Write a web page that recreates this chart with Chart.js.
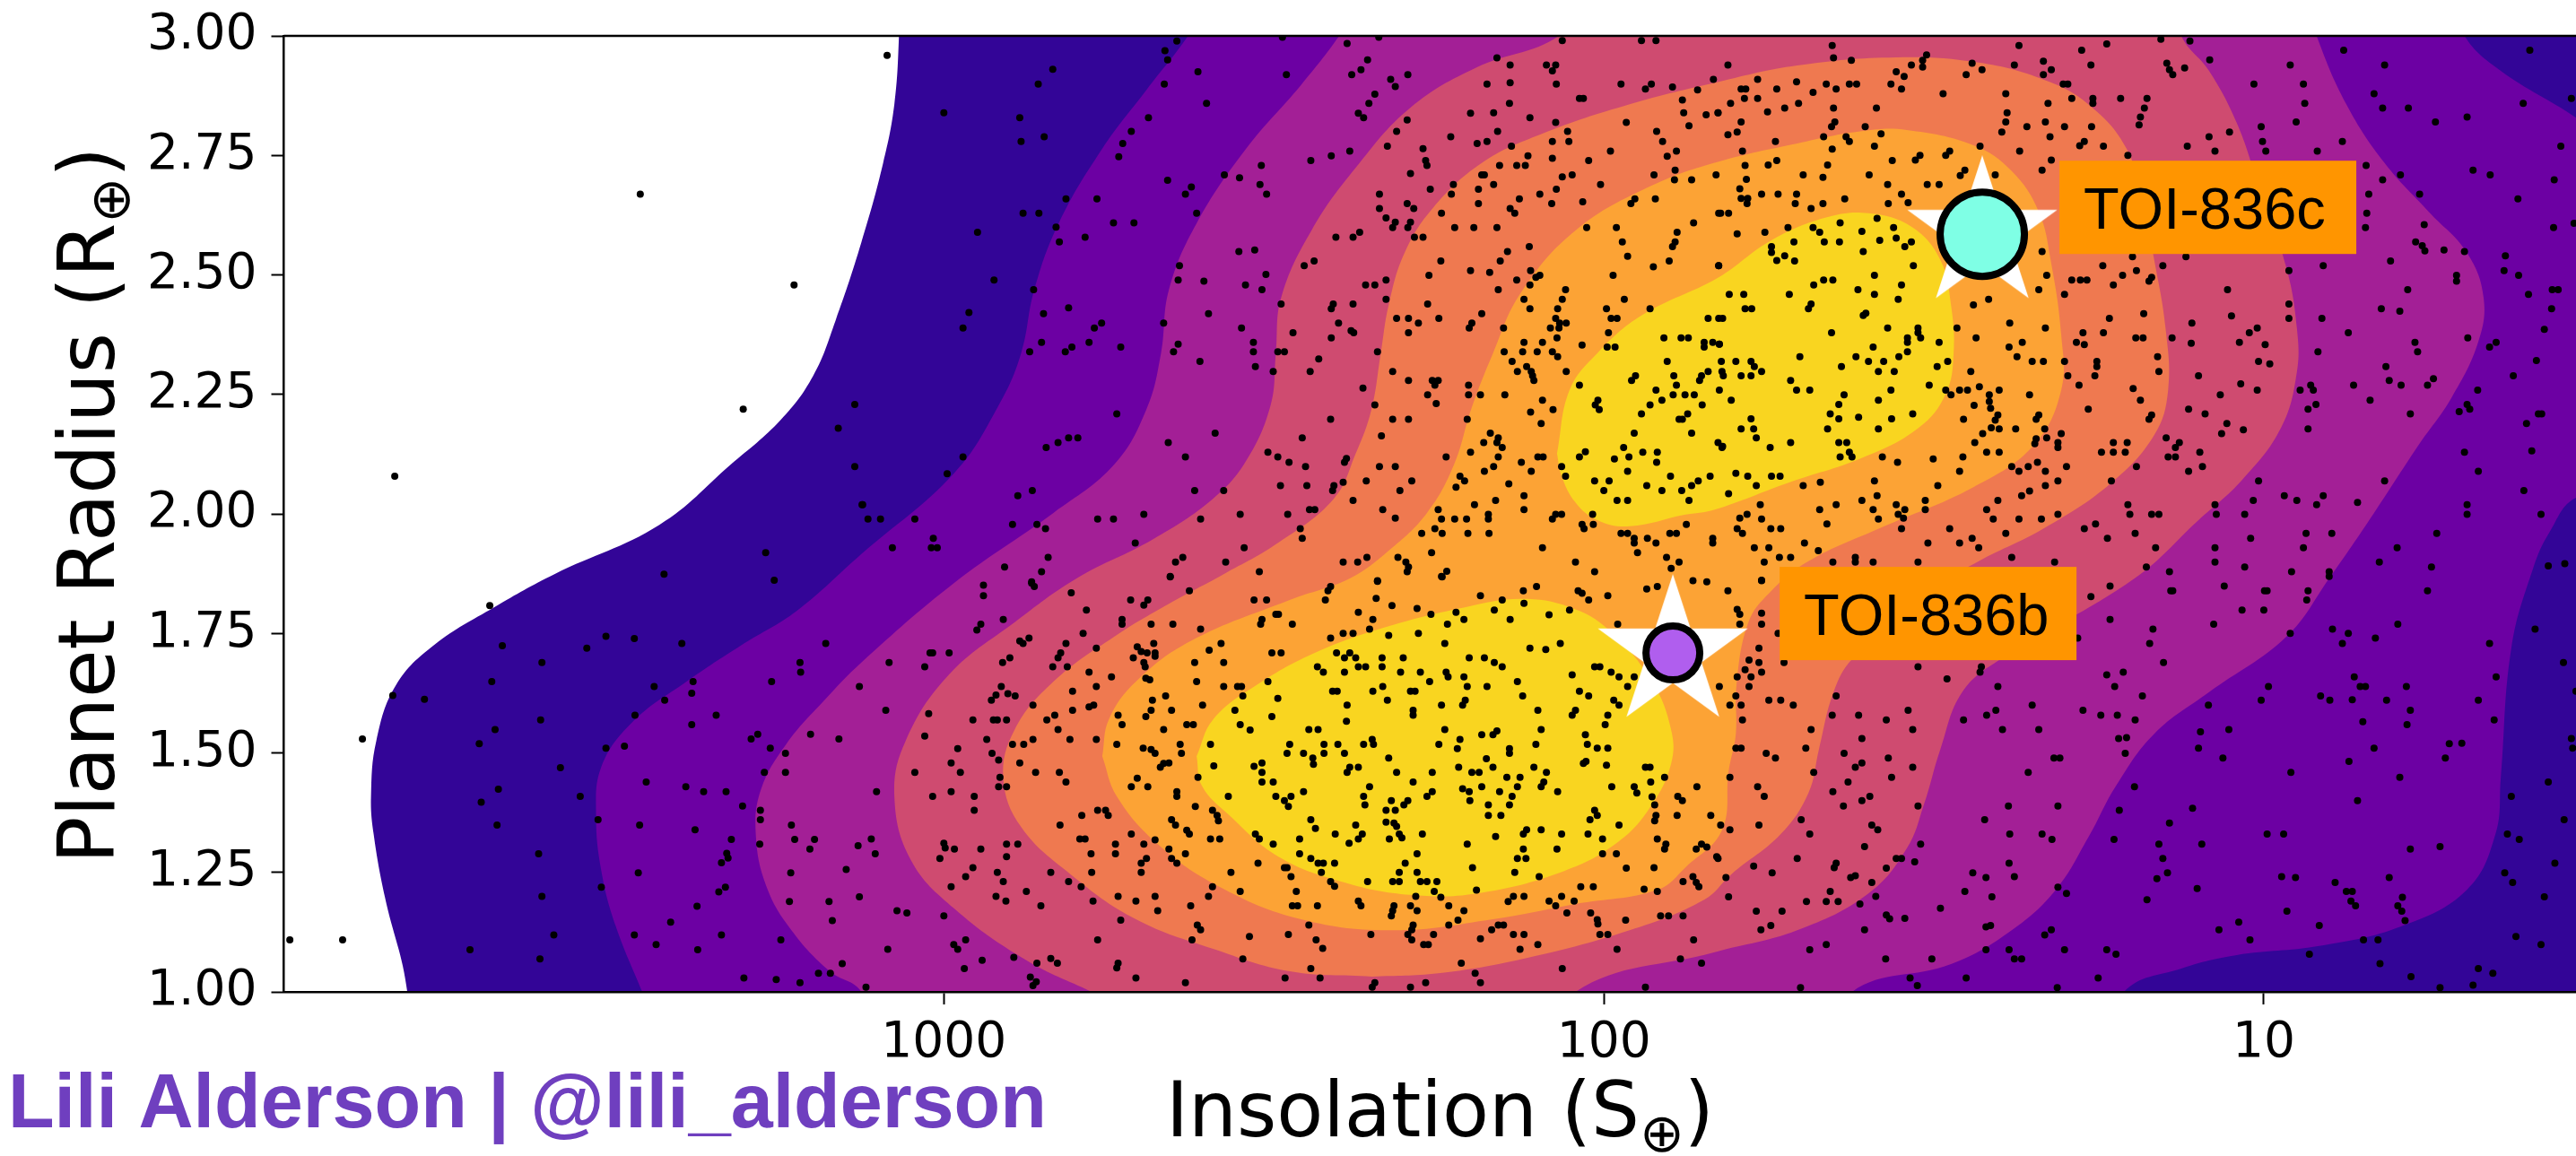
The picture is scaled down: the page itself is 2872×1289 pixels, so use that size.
<!DOCTYPE html>
<html><head><meta charset="utf-8">
<style>html,body{margin:0;padding:0;background:#fff}canvas{display:block}</style>
<script src="https://cdn.jsdelivr.net/npm/chart.js@4/dist/chart.umd.min.js"></script>
</head><body><canvas id="c" width="2872" height="1289"></canvas>
<script>
// All pairs: log10(insolation), planet radius
const yTicks=[1,1.25,1.5,1.75,2,2.25,2.5,2.75,3];
const xTicks=[1000,100,10];
const contourColors=['#330597','#6C00A3','#A31F96','#CF4B70','#EF7950','#FCA335','#F9D520','#F9D520'];
const level1=[3.813,.824,3.813,1,3.847,1.199,3.864,1.33,3.868,1.409,3.86,1.525,3.83,1.642,3.772,1.726,3.681,1.805,3.59,1.874,3.431,1.977,3.323,2.103,3.247,2.197,3.198,2.289,3.164,2.405,3.125,2.568,3.092,2.734,3.075,2.857,3.068,3,3.065,3.188,.353,3.188,.353,.824];
const level2=[3.457,1,3.497,1.137,3.519,1.253,3.527,1.37,3.519,1.471,3.473,1.563,3.39,1.649,3.306,1.726,3.223,1.797,3.125,1.916,2.984,2.086,2.917,2.227,2.883,2.336,2.863,2.469,2.826,2.608,2.76,2.764,2.693,2.887,2.63,3,2.541,3.188,.761,3.188,.696,3,.641,2.927,.527,2.829,.421,2.719,.421,2.062,.527,2.034,.567,1.962,.592,1.886,.625,1.719,.641,1.447,.649,1.33,.692,1.214,.792,1.137,.916,1.096,1.041,1.077,1.125,1.049,1.212,1,1.277,.824,3.478,.824];
const level3=[3.071,.824,3.125,1,3.173,1.043,3.231,1.129,3.269,1.221,3.285,1.33,3.277,1.424,3.239,1.518,3.181,1.61,3.125,1.689,2.984,1.856,2.834,2.002,2.742,2.103,2.693,2.219,2.671,2.336,2.659,2.469,2.617,2.608,2.542,2.764,2.459,2.897,2.401,3,2.31,3.188,.965,3.188,.92,3,.875,2.857,.817,2.734,.75,2.632,.692,2.546,.667,2.452,.675,2.36,.716,2.242,.766,2.143,.833,2.002,.901,1.865,.966,1.743,1.083,1.627,1.166,1.54,1.224,1.431,1.266,1.323,1.315,1.214,1.382,1.129,1.474,1.058,1.624,1,1.712,.824];
const level4=[2.776,1,2.875,1.066,2.984,1.174,3.05,1.276,3.075,1.409,3.058,1.525,2.992,1.664,2.893,1.773,2.799,1.865,2.683,1.947,2.592,2.032,2.542,2.111,2.505,2.227,2.497,2.336,2.489,2.452,2.443,2.593,2.376,2.724,2.293,2.85,2.193,2.934,2.068,3,1.916,3.188,1.168,3.188,1.125,3,1.083,2.927,1.041,2.818,1.008,2.687,.966,2.516,.95,2.39,.95,2.296,.974,2.18,1.033,2.071,1.099,1.987,1.196,1.865,1.399,1.696,1.457,1.627,1.49,1.508,1.515,1.392,1.541,1.3,1.599,1.206,1.707,1.129,1.832,1.083,2.043,1,2.12,.824,2.731,.824];
const level5=[2.351,1.032,2.476,1.043,2.592,1.09,2.709,1.152,2.808,1.246,2.883,1.345,2.91,1.447,2.893,1.548,2.834,1.649,2.742,1.743,2.659,1.812,2.576,1.874,2.493,1.94,2.409,2.032,2.376,2.126,2.352,2.219,2.338,2.336,2.326,2.437,2.302,2.546,2.259,2.64,2.185,2.734,2.094,2.795,1.961,2.857,1.826,2.904,1.707,2.938,1.557,2.955,1.432,2.944,1.333,2.908,1.266,2.857,1.208,2.764,1.182,2.64,1.166,2.531,1.149,2.39,1.145,2.259,1.166,2.165,1.232,2.064,1.333,1.97,1.432,1.901,1.522,1.827,1.624,1.696,1.652,1.627,1.674,1.508,1.69,1.416,1.732,1.33,1.807,1.246,1.848,1.193,1.961,1.129,2.126,1.068,2.251,1.039,2.351,1.032];
const level6=[2.76,1.493,2.738,1.409,2.675,1.308,2.584,1.221,2.459,1.152,2.318,1.129,2.168,1.152,2.043,1.184,1.918,1.214,1.876,1.261,1.821,1.338,1.811,1.461,1.8,1.54,1.799,1.642,1.781,1.773,1.749,1.835,1.69,1.901,1.582,1.97,1.44,2.056,1.349,2.143,1.307,2.259,1.307,2.375,1.323,2.531,1.341,2.632,1.382,2.717,1.44,2.771,1.541,2.803,1.607,2.801,1.707,2.775,1.826,2.737,1.927,2.687,2.043,2.593,2.126,2.462,2.168,2.336,2.201,2.219,2.227,2.103,2.268,2.002,2.326,1.923,2.385,1.865,2.476,1.82,2.626,1.734,2.709,1.649,2.75,1.57,2.76,1.493];
const level7a=[2.617,1.493,2.592,1.57,2.526,1.642,2.435,1.711,2.326,1.765,2.209,1.805,2.126,1.822,2.052,1.805,1.993,1.758,1.927,1.649,1.898,1.548,1.898,1.478,1.927,1.392,1.977,1.315,2.06,1.253,2.193,1.206,2.293,1.203,2.393,1.229,2.493,1.283,2.568,1.37,2.609,1.431,2.617,1.493];
const level7b=[2.071,2.126,2.052,2.259,2.01,2.336,1.943,2.415,1.826,2.495,1.749,2.57,1.666,2.619,1.599,2.629,1.533,2.6,1.49,2.531,1.474,2.437,1.47,2.336,1.482,2.251,1.523,2.18,1.607,2.118,1.723,2.064,1.832,2.009,1.878,1.998,1.961,1.974,2.01,1.987,2.043,2.024,2.064,2.079,2.071,2.126];
const dotsFarLeft=[3.46,2.669,3.227,2.479,3.304,2.219,3.832,2.079,3.135,2.229,3.16,2.179,3.135,2.099,3.124,2.019,3.27,1.919,3.424,1.874,3.257,1.861,3.688,1.808,3.669,1.724,3.512,1.744,3.541,1.719,3.469,1.739,3.397,1.729,3.609,1.689,3.685,1.649,3.835,1.62,3.787,1.612,3.439,1.639,3.38,1.649,3.382,1.625,3.423,1.61,3.468,1.579,3.611,1.569,3.68,1.549,3.881,1.529,3.704,1.519,3.512,1.51,3.484,1.514,3.382,1.559,3.345,1.579,3.581,1.469,3.451,1.439,3.391,1.429,3.364,1.419,3.33,1.419,3.675,1.424,3.701,1.397,3.551,1.409,3.524,1.36,3.677,1.349,3.461,1.349,3.377,1.339,3.322,1.319,3.305,1.389,3.278,1.38,3.278,1.36,3.279,1.309,3.614,1.289,3.329,1.29,3.327,1.28,3.337,1.27,3.463,1.249,3.519,1.219,3.331,1.219,3.341,1.209,3.609,1.2,3.374,1.179,3.414,1.146,3.591,1.119,3.469,1.119,3.337,1.119,3.991,1.109,3.911,1.109,3.436,1.099,3.718,1.088,3.373,1.088,3.612,1.069,3.303,1.029,3.254,1.026,3.218,1.019,3.247,1.109,3.19,1.039,3.172,1.039,3.154,1.059,3.234,1.189,3.232,1.249,3.174,1.189,3.169,1.149,3.128,1.199,3.148,1.256,3.13,1.306,3.203,1.299,3.196,1.319,3.226,1.319,3.231,1.349,3.24,1.459,3.272,1.459,3.24,1.499,3.263,1.51,3.292,1.529,3.282,1.539,3.202,1.539,3.159,1.529,3.128,1.639,3.261,1.649,3.218,1.689,3.217,1.669,3.179,1.729];
const dotsUpperMid=[3.086,2.959,2.647,2.989,2.665,2.969,2.661,2.95,2.487,2.997,2.341,2.997,2.389,2.984,2.835,2.93,2.857,2.899,2.615,2.925,2.481,2.919,2.666,2.899,2.602,2.859,3,2.839,2.885,2.829,2.69,2.829,2.716,2.8,2.848,2.789,2.883,2.779,2.729,2.775,2.735,2.747,2.063,2.99,1.943,2.99,1.921,2.99,2.162,2.954,2.358,2.95,2.142,2.939,2.087,2.939,2.073,2.939,2.078,2.927,2.368,2.929,2.382,2.919,2.297,2.919,2.323,2.909,2.316,2.894,2.177,2.899,2.142,2.902,2.072,2.899,1.974,2.899,1.937,2.889,1.928,2.899,1.896,2.893,1.834,2.909,1.858,2.887,2.347,2.878,2.356,2.859,2.143,2.859,2.037,2.869,2.031,2.869,1.881,2.866,2.372,2.838,2.364,2.829,2.202,2.838,2.167,2.839,2.112,2.829,1.879,2.839,1.845,2.835,1.827,2.839,2.298,2.824,2.073,2.819,1.966,2.819,1.871,2.812,2.314,2.8,2.161,2.8,2.055,2.8,1.92,2.8,2.232,2.789,2.078,2.779,2.053,2.779,2.192,2.775,2.177,2.779,1.911,2.779,2.328,2.769,2.14,2.769,2.274,2.764,2.385,2.759,1.99,2.759,1.89,2.759,1.904,2.748,2.413,2.749,2.444,2.739,2.519,2.729,2.27,2.739,2.268,2.729,2.115,2.749,2.078,2.744,2.023,2.739,2.158,2.729,2.132,2.729,2.119,2.729,2.575,2.709,2.552,2.703,2.293,2.712,2.185,2.709,2.181,2.709,2.063,2.705,2.048,2.709,1.924,2.709,1.892,2.719,1.893,2.699,1.867,2.699,1.83,2.709,2.661,2.698,2.521,2.689,2.625,2.684,2.634,2.669,2.511,2.669,2.228,2.689,2.167,2.689,2.005,2.689,2.263,2.679,2.19,2.679,2.072,2.679,2.34,2.669,2.231,2.669,2.097,2.669,2.815,2.659,2.768,2.659,2.128,2.659,1.953,2.659,1.922,2.659,2.032,2.653,2.19,2.649,2.079,2.649,1.959,2.649,2.298,2.649,2.34,2.639,2.288,2.639,2.142,2.639,2.135,2.629,2.88,2.629,2.856,2.629,2.617,2.629,2.246,2.629,1.826,2.629,2.33,2.619,2.316,2.61,2.293,2.61,2.743,2.609,2.712,2.609,1.864,2.609,2.83,2.6,2.32,2.599,2.297,2.599,2.226,2.599,2.197,2.599,2.162,2.599,2.026,2.599,1.981,2.599,2.949,2.589,2.37,2.589,1.889,2.589,2.786,2.579,2.406,2.579,2.38,2.579,2.287,2.579,2.274,2.579,2.825,2.569,1.972,2.569,1.892,2.569,1.896,2.559,2.113,2.559,2.553,2.549,2.529,2.552,2.146,2.549,1.964,2.539,2.439,2.529,2.247,2.529,2.157,2.529,1.901,2.529,2.454,2.519,2.643,2.519,1.925,2.517,1.826,2.519,2.202,2.509,2.173,2.505,2.111,2.509,2.512,2.501,2.265,2.499,2.097,2.499,1.986,2.499,2.924,2.489,2.645,2.489,2.606,2.487,2.33,2.489,2.132,2.489,2.103,2.495,2.361,2.479,2.347,2.479,2.543,2.479,2.112,2.479,2.864,2.469,2.518,2.469,2.16,2.469,2.058,2.469,2.33,2.449,2.121,2.449,2.063,2.449,1.969,2.449,2.489,2.439,2.38,2.439,2.41,2.439,2.413,2.429,2.267,2.439,2.112,2.429,2.07,2.429,1.996,2.429,1.93,2.429,2.811,2.431,2.962,2.421,2.849,2.419,2.599,2.419,2.185,2.419,2.667,2.399,2.761,2.399,2.314,2.409,2.296,2.409,2.25,2.409,2.073,2.409,1.989,2.409,1.98,2.409,1.842,2.409,1.826,2.409,2.402,2.399,2.281,2.399,2.2,2.399,2.057,2.399,2.067,2.399,2.971,2.389,2.772,2.389,2.549,2.389,2.204,2.389,2.152,2.389,2.081,2.389,2.068,2.389,2.471,2.379,2.383,2.383,2.379,2.379,2.296,2.379,1.993,2.379,2.413,2.368,2.071,2.368,1.909,2.368,1.883,2.368,1.872,2.368,2.852,2.359,2.78,2.359,2.531,2.359,2.121,2.359,2.093,2.359,1.848,2.359,1.835,2.359,1.825,2.355,2.732,2.349,2.806,2.349,2.645,2.355,2.033,2.353,1.995,2.349,1.983,2.349,1.848,2.349,2.87,2.339,2.816,2.339,2.652,2.339,2.531,2.339,2.494,2.339,2.484,2.339,2.343,2.339,2.151,2.339,2.123,2.339,2.101,2.339,2.078,2.339,2.07,2.329,2.432,2.324,2.612,2.319,2.139,2.319,1.904,2.319,2.528,2.308,2.117,2.308,2.501,2.298,2.445,2.298,2.32,2.298,2.131,2.298,2.11,2.298,2.057,2.298,1.842,2.298,1.821,2.298,2.108,2.289,1.952,2.289,1.894,2.289,1.852,2.289,2.296,2.279,2.26,2.279,2.251,2.279,2.106,2.279,1.958,2.279,1.855,2.279,2.256,2.269,2.205,2.269,2.037,2.269,1.89,2.269,2.365,2.263,1.921,2.259,1.825,2.259,2.267,2.249,2.205,2.249,2.187,2.249,2.15,2.249,1.895,2.249,1.877,2.249,1.863,2.249,2.009,2.238,1.912,2.238,2.093,2.238,2.254,2.231,2.347,2.228,2.013,2.228,1.93,2.228,1.851,2.228,2.077,2.218,2.007,2.218,2.738,2.209,2.111,2.213,1.943,2.209,1.873,2.209,2.414,2.198,2.32,2.198,2.296,2.198,2.207,2.198,1.886,2.198,1.881,2.198,2.095,2.189,2.589,2.169,2.172,2.169,1.954,2.169,1.867,2.169,2.797,2.159,2.811,2.159,2.457,2.159,2.337,2.163,2.16,2.159,2.827,2.149,2.66,2.149,2.182,2.149,2.162,2.149,1.827,2.149,2.845,2.139,2.154,2.139,1.97,2.139,1.82,2.141,2.971,2.119,2.634,2.119,2.509,2.129,2.494,2.119,2.202,2.129,2.028,2.13,1.941,2.129,1.919,2.129,2.39,2.116,2.239,2.119,2.16,2.119,2.1,2.119,2.092,2.119,2.037,2.119,1.984,2.115,1.962,2.119,2.477,2.108,2.393,2.108,2.125,2.108,1.92,2.108,2.452,2.099,2.34,2.099,2.316,2.099,2.167,2.099,2.064,2.099,2.181,2.089,2.11,2.089,1.964,2.089,2.995,2.084,2.218,2.079,2.058,2.079,1.899,2.079,1.839,2.079,2.211,2.069,2.395,2.066,2.36,2.069,2.291,2.069,2.144,2.063,2.014,2.069,1.992,2.069,1.857,2.069,2.49,2.059,2.45,2.059,2.409,2.059,2.224,2.056,1.935,2.059,1.867,2.059,2.866,2.049,2.62,2.049,2.576,2.049,2.411,2.049,2.309,2.049,2,2.049,1.912,2.049,1.882,2.049,2.888,2.038,2.121,2.038,2.38,2.028,2.164,2.028,1.98,2.028,1.964,2.028,1.871,2.028,3.123,2.019,2.196,2.019,2.446,2.009,2.438,2.009,2.335,2.009,2.251,2.009,2.121,2.009,3.115,1.989,3.096,1.989,3.044,1.989,2.767,1.989,2.743,1.989,2.611,1.989,2.316,1.991,2.246,1.989,2.226,1.989,2.208,1.989,2.175,1.989,2.078,1.989,2.697,1.999,2.551,1.999,2.479,1.999,2.175,1.999,2.073,1.999,2.064,1.999,2.017,1.999,2.896,1.978,2.859,1.978,2.846,1.969,2.256,1.969,2.46,1.969,1.875,1.978,2.033,1.978,2.016,1.978,2.03,1.969,3.016,1.949,2.457,1.949,2.276,1.959,2.245,1.959,2.206,1.959,2.174,1.959,1.974,1.959,1.964,1.959,1.9,1.959,1.89,1.959,1.835,1.949,1.954,1.949,1.934,1.949,2.71,1.939,1.954,1.939,1.921,1.939,1.835,1.939,3.078,1.929,3.019,1.929,3.01,1.929,2.545,1.929,2.093,1.929,2.261,1.919,1.949,1.919,2.842,1.909,2.638,1.909,2.359,1.909,2.312,1.909,1.905,1.909,2.649,1.899,2.573,1.899,2.395,1.899,2.373,1.899,2.3,1.899,2.043,1.899,1.886,1.899,2.908,1.889,2.296,1.889,1.898,1.886,2.238,1.88,2.852,1.879,2.522,1.879,2.298,1.879,2.014,1.879,2.657,1.869,2.246,1.869,2.867,1.858,2.343,1.859];
const dotsLowerMid=[2.94,1.851,2.94,1.829,2.867,1.855,2.863,1.848,2.807,1.835,2.657,1.868,2.628,1.839,2.414,1.848,2.418,1.839,2.343,1.86,2.245,1.868,2.102,1.848,2.122,1.839,2.039,1.839,2.033,1.834,1.994,1.829,1.935,1.843,1.919,1.848,1.865,1.86,1.844,1.858,2.187,1.829,2.154,1.82,2.121,1.813,2.345,1.823,2.422,1.82,2.53,1.82,2.511,1.82,2.717,1.82,2.691,1.82,2.697,1.809,2.023,1.82,2.283,1.802,2.321,1.808,2.166,1.799,2.052,1.799,2.083,1.789,2.784,1.799,2.497,1.79,2.493,1.79,2.372,1.794,2.262,1.79,2.224,1.794,2.212,1.779,2.142,1.779,2.73,1.779,2.73,1.769,2.91,1.779,2.518,1.779,2.52,1.769,2.35,1.779,2.237,1.769,2.686,1.769,2.653,1.769,2.472,1.769,2.944,1.769,2.95,1.757,2.611,1.759,2.355,1.759,1.979,1.769,2.789,1.75,2.395,1.75,2.38,1.75,2.326,1.746,2.281,1.75,2.414,1.74,2.871,1.74,2.885,1.734,2.88,1.729,2.815,1.729,2.682,1.729,2.58,1.729,2.241,1.729,2.066,1.729,2.769,1.719,2.707,1.722,2.598,1.715,2.112,1.719,2.088,1.716,3.021,1.709,3.017,1.709,2.992,1.709,2.503,1.709,2.489,1.709,2.405,1.709,2.385,1.709,2.823,1.709,2.827,1.699,2.701,1.712,2.692,1.709,2.68,1.709,2.713,1.699,2.68,1.702,2.393,1.699,2.376,1.699,2.336,1.699,2.304,1.699,2.204,1.699,2.181,1.699,2.9,1.699,2.911,1.689,3.083,1.689,2.62,1.689,2.576,1.689,2.697,1.689,2.695,1.68,2.166,1.689,3.029,1.68,2.835,1.68,2.813,1.68,2.434,1.68,2.425,1.669,2.372,1.68,2.361,1.68,2.336,1.68,2.154,1.68,2.014,1.68,2.006,1.68,1.989,1.669,2.393,1.669,2.308,1.669,2.278,1.669,2.239,1.669,2.236,1.659,2.78,1.669,2.694,1.656,2.688,1.653,2.746,1.659,2.048,1.663,2.212,1.659,1.977,1.659,1.954,1.659,2.131,1.649,2.264,1.649,2.617,1.649,2.509,1.649,2.913,1.639,2.769,1.639,2.805,1.629,2.576,1.639,2.555,1.639,2.549,1.639,2.335,1.639,2.207,1.639,2.177,1.639,1.964,1.639,2.921,1.621,2.928,1.61,2.903,1.624,2.892,1.619,2.411,1.629,2.404,1.629,2.35,1.629,2.293,1.629,2.286,1.629,2.037,1.629,2.023,1.619,2.123,1.619,2.664,1.619,2.547,1.619,2.494,1.614,2.684,1.61,2.328,1.61,2.21,1.61,2.865,1.6,2.773,1.6,2.78,1.596,2.608,1.6,2.389,1.6,2.246,1.6,2.214,1.6,1.985,1.61,1.977,1.6,3.088,1.589,2.805,1.589,2.686,1.589,2.655,1.589,2.559,1.589,2.289,1.589,2.289,1.579,2.1,1.589,2.043,1.589,2.048,1.579,3.023,1.582,2.832,1.579,2.736,1.579,2.694,1.576,2.503,1.576,1.994,1.579,2.956,1.569,2.925,1.569,2.919,1.569,2.905,1.569,2.844,1.569,2.39,1.566,2.73,1.559,2.632,1.559,2.622,1.559,2.551,1.559,2.536,1.548,1.998,1.559,2.827,1.549,2.667,1.549,2.447,1.549,2.433,1.549,2.241,1.549,2.095,1.549,2.185,1.538,2.168,1.538,2.162,1.546,2.028,1.538,3.029,1.535,2.935,1.528,2.865,1.528,2.809,1.528,2.769,1.528,2.351,1.528,2.349,1.518,2.218,1.528,2.896,1.518,2.879,1.518,2.738,1.518,2.642,1.518,2.596,1.518,2.476,1.518,2.424,1.518,2.403,1.518,2.364,1.518,2.25,1.518,2.103,1.518,2.025,1.518,2.01,1.51,1.994,1.51,2.979,1.509,2.698,1.51,2.686,1.507,2.68,1.499,2.222,1.509,2.143,1.509,2.143,1.499,2.48,1.499,2.455,1.499,2.424,1.499,2.393,1.499,2.927,1.499,2.64,1.499,2.326,1.489,2.441,1.489,2.917,1.485,2.178,1.488,2.989,1.479,2.885,1.479,2.659,1.479,2.667,1.478,2.518,1.479,2.44,1.476,2.031,1.478,2.027,1.482,1.996,1.474,2.591,1.473,2.53,1.472,2.385,1.47,2.372,1.47,2.22,1.47,2.168,1.47,2.106,1.47,1.937,1.47,1.93,1.47,2.672,1.47,3.044,1.459,2.975,1.459,2.861,1.459,2.825,1.459,2.518,1.459,2.389,1.459,2.314,1.459,2.26,1.459,2.2,1.459,2.189,1.459,2.087,1.459,2.915,1.449,2.707,1.447,2.615,1.449,2.518,1.439,2.501,1.439,2.815,1.439,2.289,1.439,2.147,1.449,2.127,1.449,2.091,1.439,1.908,1.449,1.929,1.439,2.917,1.429,2.905,1.429,2.716,1.429,2.691,1.429,2.355,1.429,2.185,1.429,2.131,1.429,2.095,1.429,1.988,1.429,1.954,1.429,1.859,1.429,3.102,1.419,2.989,1.419,2.647,1.419,2.647,1.409,2.455,1.419,2.26,1.419,2.214,1.425,2.204,1.419,2.158,1.419,2.07,1.419,1.95,1.416,2.364,1.409,2.362,1.391,2.497,1.409,2.474,1.409,2.268,1.409,2.139,1.409,3.017,1.409,2.954,1.409,2.569,1.409,1.927,1.408,1.888,1.409,2.484,1.4,2.478,1.388,2.322,1.4,2.297,1.4,2.303,1.391,2.203,1.4,1.881,1.4,2.619,1.388,2.175,1.391,2.143,1.391,1.923,1.391,2.767,1.38,2.755,1.38,2.954,1.38,2.593,1.38,2.33,1.38,2.316,1.38,2.014,1.38,2.791,1.369,2.751,1.369,2.586,1.369,2.584,1.358,2.175,1.369,2.156,1.369,2.01,1.369,1.921,1.369,1.889,1.369,1.838,1.369,2.655,1.36,2.444,1.36,2.33,1.355,2.318,1.353,2.021,1.36,1.923,1.358,2.824,1.349,2.649,1.349,2.376,1.349,2.314,1.346,1.977,1.349,2.437,1.342,2.632,1.338,2.117,1.339,2.122,1.33,2.095,1.339,2.024,1.33,2.366,1.33,2.716,1.33,2.628,1.33,2.528,1.33,2.31,1.33,2.306,1.322,2.275,1.33,2.164,1.325,2.064,1.33,2.407,1.33,2.794,1.32,2.786,1.32,2.68,1.318,2.596,1.32,2.582,1.32,2.522,1.32,2.461,1.32,2.372,1.32,2.386,1.311,2.325,1.32,2.002,1.32,1.919,1.32,3.11,1.32,2.501,1.309,3,1.311,2.998,1.301,2.905,1.309,2.888,1.309,2.74,1.309,2.697,1.309,2.207,1.309,1.906,1.309,1.908,1.299,1.852,1.309,2.984,1.299,2.944,1.299,2.659,1.299,2.122,1.299,2.071,1.299,1.86,1.299,1.844,1.303,3.104,1.289,2.905,1.283,2.777,1.289,2.74,1.289,2.634,1.289,2.461,1.289,2.283,1.289,2.002,1.289,1.981,1.289,3.006,1.279,2.693,1.279,2.655,1.279,2.444,1.279,2.131,1.279,2.118,1.279,1.829,1.283,2.701,1.269,2.647,1.269,2.524,1.269,2.433,1.269,2.425,1.269,2.408,1.269,2.301,1.269,2.484,1.26,2.48,1.26,2.956,1.26,2.199,1.26,1.966,1.259,1.924,1.26,2.428,1.25,2.31,1.25,2.283,1.25,2.919,1.25,2.838,1.25,2.776,1.25,2.701,1.25,2.565,1.25,2.135,1.25,2.098,1.241,2.967,1.241,2.474,1.241,1.865,1.241,2.811,1.231,2.91,1.231,2.358,1.231,2.32,1.231,2.31,1.231,2.278,1.231,2.268,1.231,2.253,1.231,2.414,1.231,2.408,1.221,1.88,1.231,1.86,1.229,2.989,1.22,2.792,1.22,2.593,1.22,2.035,1.22,2.016,1.22,1.856,1.22,2.193,1.213,1.939,1.215,1.919,1.21,2.875,1.21,2.551,1.21,2.466,1.21,2.257,1.21,2.599,1.2,2.736,1.2,2.68,1.2,2.921,1.2,2.285,1.2,2.247,1.198,2.137,1.2,2.121,1.2,2.064,1.2,2.906,1.19,2.774,1.19,2.709,1.19,2.372,1.19,2.083,1.19,2.045,1.19,2.145,1.189,2.853,1.18,2.626,1.18,2.472,1.18,2.464,1.18,2.434,1.18,2.318,1.18,2.293,1.18,2.235,1.18,2.368,1.18,2.073,1.18,3.071,1.17,3.056,1.165,2.676,1.17,2.32,1.17,2.283,1.17,2.212,1.17,2.056,1.165,2.02,1.165,3,1.159,2.322,1.159,1.902,1.159,1.914,1.159,1.88,1.159,2.01,1.151,2.009,1.142,2.732,1.15,1.967,1.15,2.221,1.15,2.616,1.14,2.611,1.13,2.447,1.14,2.289,1.14,2.235,1.14,2.16,1.14,2.152,1.14,2.17,1.13,2.291,1.13,2.478,1.12,2.537,1.116,2.353,1.12,2.297,1.12,2.258,1.12,2.137,1.12,2.121,1.12,2.006,1.12,1.994,1.12,2.767,1.109,2.967,1.109,2.624,1.109,2.436,1.109,2.291,1.109,2.187,1.111,1.864,1.109,2.985,1.099,2.979,1.089,2.273,1.099,2.266,1.099,2.1,1.099,3.085,1.089,2.426,1.091,2.127,1.089,1.98,1.089,2.894,1.072,2.838,1.07,2.828,1.06,2.547,1.069,2.942,1.066,2.216,1.06,1.884,1.069,2.859,1.06,2.736,1.06,2.738,1.05,1.852,1.06,2.969,1.049,2.444,1.049,2.063,1.049,2.195,1.039,2.187,1.019,2.869,1.031,2.86,1.021,2.865,1.013,2.709,1.029,2.483,1.029,2.43,1.029,2.634,1.019,2.347,1.019,2.351,1.01,2.27,1.019,3.118,1.01,2.293,1.01,1.937,1.01];
const dotsUpperRight=[1.654,2.98,1.371,2.98,1.276,2.97,1.238,2.983,1.156,2.993,1.112,2.989,.879,2.97,.597,2.97,1.652,2.954,1.625,2.949,1.812,2.939,1.511,2.96,1.517,2.949,1.517,2.935,1.534,2.939,1.442,2.943,1.427,2.929,1.334,2.947,1.322,2.929,1.378,2.939,1.262,2.939,1.147,2.943,1.143,2.929,1.138,2.919,1.12,2.933,1.082,2.95,.96,2.939,.817,2.939,1.557,2.925,1.545,2.915,1.451,2.919,1.334,2.919,1.767,2.909,1.708,2.904,1.663,2.899,1.628,2.899,1.617,2.899,1.565,2.899,1.304,2.899,1.297,2.899,1.015,2.899,.94,2.899,1.792,2.889,1.785,2.889,1.738,2.889,1.648,2.889,1.549,2.889,1.683,2.882,1.486,2.879,1.391,2.879,.833,2.879,1.787,2.869,1.767,2.869,1.291,2.869,1.259,2.869,1.259,2.859,1.217,2.869,1.177,2.869,1.808,2.859,1.705,2.859,1.327,2.859,.938,2.859,.607,2.859,.534,2.869,1.726,2.849,1.652,2.849,1.587,2.849,.82,2.849,.781,2.849,1.181,2.849,1.752,2.841,1.827,2.839,1.389,2.839,1.187,2.83,1.189,2.814,.692,2.83,1.65,2.82,1.655,2.81,1.792,2.82,1.391,2.82,1.331,2.82,.951,2.82,.74,2.82,1.798,2.799,1.812,2.793,1.359,2.81,1.302,2.81,1.261,2.81,1.004,2.81,1.604,2.81,1.397,2.799,1.052,2.799,1.667,2.789,1.633,2.789,1.628,2.779,1.58,2.795,1.324,2.789,1.083,2.789,1.74,2.779,1.272,2.779,1.279,2.77,1.002,2.779,.881,2.779,1.59,2.769,1.43,2.769,1.243,2.769,1.116,2.769,.55,2.769,1.654,2.763,1.79,2.759,1.37,2.759,1.074,2.759,.997,2.759,.919,2.759,1.476,2.759,1.482,2.75,1.521,2.75,1.528,2.74,1.206,2.75,1.563,2.739,1.322,2.74,1.738,2.739,1.751,2.73,1.661,2.73,1.786,2.729,.845,2.729,1.336,2.719,1.453,2.719,1.46,2.708,.683,2.719,1.698,2.709,1.598,2.709,1.407,2.709,.793,2.709,.657,2.709,1.668,2.704,1.784,2.7,.82,2.699,.56,2.699,1.57,2.689,1.51,2.689,1.492,2.689,1.794,2.68,1.792,2.66,1.782,2.66,1.761,2.669,1.736,2.669,1.708,2.669,1.549,2.669,.841,2.669,.764,2.669,1.783,2.649,1.71,2.649,1.668,2.649,1.635,2.659,1.539,2.651,1.569,2.649,.615,2.659,1.686,2.639,1.823,2.629,1.811,2.629,.844,2.629,.846,2.599,.757,2.605,.561,2.599,.53,2.608,1.642,2.609,1.586,2.618,1.683,2.599,1.673,2.589,1.721,2.599,1.609,2.591,1.561,2.599,1.798,2.586,1.756,2.589,1.712,2.569,1.666,2.569,1.643,2.569,1.582,2.572,1.557,2.577,1.534,2.569,1.544,2.559,1.746,2.559,1.746,2.547,.77,2.569,.76,2.561,.756,2.55,.727,2.552,.696,2.549,1.607,2.549,1.336,2.549,1.726,2.54,1.738,2.53,1.711,2.529,.634,2.54,.808,2.529,1.244,2.519,1.199,2.538,1.118,2.538,1.153,2.519,.91,2.519,1.531,2.519,1.826,2.519,.636,2.509,1.193,2.509,.962,2.509,1.59,2.499,1.329,2.499,1.214,2.499,.614,2.499,.708,2.499,.708,2.487,1.291,2.489,1.278,2.489,1.268,2.489,1.17,2.495,1.174,2.487,1.667,2.489,1.653,2.489,1.682,2.479,1.228,2.479,1.549,2.479,1.615,2.469,1.341,2.469,1.055,2.469,.782,2.469,.563,2.469,.554,2.469,1.81,2.459,1.788,2.459,1.719,2.459,1.59,2.459,1.302,2.459,.599,2.459,1.686,2.439,1.69,2.429,1.554,2.449,1.417,2.449,1.44,2.437,.962,2.439,1.786,2.429,1.776,2.429,.822,2.429,.794,2.424,.564,2.429,1.607,2.415,1.603,2.42,1.82,2.409,1.234,2.409,1.182,2.419,1.049,2.414,.962,2.409,.912,2.409,1.385,2.399,1.109,2.399,1.57,2.389,1.655,2.379,1.465,2.389,1.331,2.389,1.01,2.389,1.022,2.379,.575,2.386,1.524,2.389,1.524,2.379,1.52,2.368,1.274,2.379,1.243,2.379,.872,2.379,1.54,2.368,1.54,2.359,1.436,2.368,1.194,2.368,1.183,2.368,1.139,2.368,.691,2.368,1.825,2.355,1.492,2.359,1.366,2.359,1.284,2.359,1.11,2.357,1.037,2.359,.771,2.359,.648,2.359,1.592,2.349,1.386,2.349,1.272,2.354,.998,2.354,.658,2.349,1.54,2.339,.918,2.339,.767,2.339,1.703,2.329,1.618,2.329,1.553,2.329,1.374,2.329,1.161,2.329,1.822,2.319,1.8,2.319,1.777,2.319,1.599,2.319,1.576,2.319,1.479,2.319,1.351,2.319,1.334,2.319,1.302,2.319,1.253,2.319,1.253,2.308,1.008,2.319,.991,2.314,.587,2.321,1.64,2.308,1.495,2.308,1.772,2.308,1.761,2.298,.815,2.308,1.584,2.298,1.56,2.298,1.444,2.298,1.159,2.298,1.819,2.289,1.792,2.289,1.777,2.289,1.297,2.289,1.256,2.289,1.099,2.289,.622,2.289,1.717,2.279,.81,2.279,.743,2.283,1.035,2.272,1.28,2.269,.929,2.269,.925,2.259,1.507,2.269,.792,2.269,.752,2.269,.864,2.269,1.708,2.259,1.688,2.259,1.565,2.259,1.482,2.259,1.461,2.259,1.449,2.259,1.431,2.266,1.401,2.259,1.198,2.262,1.01,2.259,.945,2.259,.676,2.259,1.474,2.249,1.636,2.249,1.355,2.249,1.066,2.249,1.807,2.238,1.584,2.238,1.416,2.249,1.416,2.235,1.414,2.221,1.187,2.238,.839,2.238,1.644,2.229,1.439,2.227,.921,2.229,.692,2.229,.688,2.219,1.266,2.219,1.114,2.219,.933,2.219,.704,2.214,1.657,2.209,1.532,2.209,1.614,2.202,1.089,2.209,.778,2.209,.584,2.209,.579,2.209,1.403,2.207,1.407,2.196,1.341,2.207,1.345,2.198,1.17,2.207,1.174,2.198,1.644,2.199,1.564,2.199,1.455,2.198,1.777,2.199,.602,2.189,1.056,2.189,1.413,2.18,1.792,2.178,1.773,2.178,1.661,2.178,1.584,2.178,1.401,2.178,1.376,2.178,1.332,2.178,1.031,2.176,.933,2.178,1.426,2.168,1.307,2.168,1.064,2.168,1.769,2.159,1.329,2.159,1.345,2.157,1.347,2.147,1.148,2.159,1.438,2.149,1.717,2.149,1.644,2.149,1.632,2.149,1.312,2.149,1.312,2.139,1.228,2.149,1.207,2.149,1.128,2.149,1.134,2.139,1.821,2.139,1.748,2.139,1.42,2.129,1.401,2.129,1.246,2.129,1.228,2.129,1.21,2.129,1.097,2.129,.696,2.129,.594,2.132,1.628,2.129,1.624,2.119,1.642,2.119,1.578,2.119,1.145,2.119,1.134,2.119,1.501,2.115,1.456,2.119,1.555,2.108,1.382,2.099,1.357,2.099,1.343,2.108,1.299,2.099,1.093,2.099,1.193,2.099,1.371,2.089,1.331,2.089,1.461,2.089,1.114,2.089,.675,2.089,1.8,2.085,1.782,2.079,1.746,2.079,1.733,2.079,1.59,2.069,1.312,2.069,1.231,2.069,1.008,2.069,.817,2.069,1.672,2.066,1.698,2.059,1.769,2.059,1.494,2.059,1.331,2.059,1.811,2.042,1.586,2.038,1.355,2.048,1.367,2.038,.606,2.049,.969,2.038,.95,2.028,.91,2.038,1.403,2.028,1.609,2.028,1.513,2.028,1.016,2.028,.858,2.024,1.763,2.019,1.557,2.019,1.544,2.009,1.206,2.019,1.074,2.019,.92,2.019,.692,2.019,1.648,2.019,1.673,2.009,1.513,2.009,1.42,2.009,1.592,2.009,1.783,1.999,1.554,1.999,1.546,1.991,1.312,1.999,1.203,1.999,1.17,1.999,1.159,1.999,1.072,1.999,1.029,1.999,.692,1.999,.58,1.999,1.794,1.991,1.761,1.989,1.584,1.989,1.41,1.989,1.371,1.989,1.337,1.989,1.662,1.979,1.255,1.979,1.798,1.969,1.747,1.969,1.732,1.969,1.549,1.969,1.476,1.969,1.272,1.969,1.79,1.959,1.391,1.959,1.195,1.959,.936,1.959,.897,1.959,.738,1.959,1.442,1.949,1.237,1.949,1.02,1.949,1.509,1.939,1.461,1.939,1.696,1.939,1.772,1.929,1.75,1.929,1.675,1.923,1.432,1.929,1.164,1.929,1.074,1.929,.94,1.929,.798,1.929,1.734,1.909,1.717,1.909,1.757,1.899,1.619,1.909,1.619,1.899,1.653,1.899,1.592,1.899,1.524,1.899,1.382,1.909,1.317,1.899,1.074,1.899,.825,1.899,.569,1.891,.544,1.896,1.178,1.889,1.029,1.889,.746,1.889,1.143,1.879,.958,1.879,.901,1.879,.901,1.869,1.761,1.861];
const dotsLowerRight=[1.761,1.86,1.812,1.839,1.233,1.849,1.141,1.839,1.138,1.839,1.06,1.849,.999,1.839,.995,1.839,.933,1.839,.752,1.839,1.262,1.827,.935,1.82,1.798,1.8,1.794,1.79,1.761,1.792,1.033,1.799,1,1.799,1.233,1.779,1.794,1.769,1.761,1.769,1.076,1.769,.797,1.769,1.168,1.759,.896,1.759,.589,1.759,1.736,1.75,.872,1.75,.96,1.75,.831,1.74,1.282,1.74,1.173,1.729,.881,1.729,.658,1.729,1.765,1.719,1.78,1.694,1.765,1.689,1.727,1.689,1.152,1.689,.546,1.689,1.524,1.68,1.428,1.68,1.43,1.669,1.786,1.674,1.761,1.669,1.798,1.659,1.777,1.659,1.238,1.663,1.213,1.669,1.48,1.655,.863,1.659,.648,1.659,1.825,1.639,1.78,1.639,1.403,1.639,1.226,1.639,.993,1.639,.854,1.639,.846,1.639,.784,1.639,1.648,1.619,1.8,1.619,1.184,1.619,.914,1.619,.527,1.629,1.75,1.61,1.732,1.61,1.004,1.61,.9,1.61,.866,1.611,.814,1.61,.675,1.61,1.809,1.6,1.792,1.6,1.713,1.6,1.351,1.6,1.084,1.6,1.539,1.589,1.406,1.589,1.274,1.589,.778,1.589,1.654,1.579,1.614,1.579,1.42,1.579,1.247,1.579,1.222,1.579,1.79,1.569,1.572,1.569,1.455,1.569,1.195,1.569,.85,1.565,.651,1.569,.783,1.559,1.686,1.549,1.532,1.549,1.396,1.549,1.341,1.549,1.096,1.544,1.053,1.549,1.609,1.53,1.22,1.53,1.208,1.532,.534,1.53,1.8,1.51,1.792,1.51,1.694,1.51,1.099,1.51,.833,1.51,.719,1.519,.7,1.52,.532,1.51,1.754,1.499,1.636,1.499,1.21,1.499,1.74,1.489,1.569,1.489,1.318,1.489,1.309,1.489,1.062,1.489,.725,1.489,1.609,1.479,.871,1.482,1.619,1.47,1.532,1.47,1.682,1.459,1.357,1.459,.959,1.459,1.809,1.449,1.564,1.449,.794,1.449,1.63,1.439,.569,1.439,1.767,1.429,1.196,1.429,1.653,1.419,1.757,1.409,1.597,1.409,1.609,1.4,.625,1.409,.858,1.4,1.637,1.389,1.524,1.389,1.387,1.389,1.312,1.389,1.108,1.384,1.219,1.38,1.701,1.36,1.423,1.36,.545,1.36,1.143,1.353,1.823,1.349,1.765,1.349,1.594,1.349,1.809,1.339,1.585,1.339,1.688,1.33,1.385,1.33,1.336,1.33,.995,1.33,.97,1.33,.631,1.33,1.321,1.319,1.227,1.319,.613,1.319,1.52,1.309,1.159,1.309,1.094,1.309,1.605,1.304,.733,1.304,.778,1.299,1.827,1.279,1.707,1.279,1.557,1.279,1.549,1.279,1.153,1.279,1.648,1.269,1.651,1.26,1.529,1.272,1.386,1.269,.559,1.269,1.773,1.263,1.572,1.259,1.745,1.249,1.441,1.249,1.146,1.249,.635,1.249,1.626,1.239,1.619,1.243,1.815,1.239,1.421,1.239,1.378,1.241,1.162,1.237,.973,1.241,.952,1.239,.81,1.239,1.594,1.229,.892,1.229,.623,1.229,1.312,1.219,1.101,1.216,1.299,1.206,1.657,1.21,1.453,1.21,.875,1.21,.866,1.21,1.811,1.199,1.588,1.2,1.412,1.199,.79,1.198,.575,1.199,1.693,1.189,1.663,1.189,1.645,1.189,1.177,1.193,1.612,1.184,.868,1.19,.861,1.18,.797,1.18,1.49,1.175,1.769,1.169,1.73,1.169,.965,1.169,.791,1.169,1.572,1.161,1.567,1.153,1.544,1.154,.786,1.149,1.038,1.146,1.747,1.139,1.762,1.13,1.414,1.139,1.421,1.136,.916,1.139,1.068,1.13,1.605,1.13,1.322,1.13,1.332,1.119,.618,1.116,1.021,1.109,.849,1.109,.827,1.109,1.663,1.099,.58,1.099,1.688,1.088,1.421,1.088,1.386,1.088,1.302,1.088,1.238,1.088,1.224,1.079,.931,1.079,1.378,1.069,1.367,1.069,1.573,1.069,1.503,1.069,.824,1.059,.675,1.049,.653,1.039,1.536,1.029,1.451,1.029,1.251,1.029,.777,1.032,1.525,1.013,.683,1.014,1.702,1.009,1.313,1.009,.733,1.009];
const planetLabels=['TOI-836c','TOI-836b'];
const planetLogS=[1.4266,1.8954];
const planetRadius=[2.585,1.709];
const planetColors=['#7FFFE5','#B05EEE'];

const pts=a=>{const r=[];for(let i=0;i<a.length;i+=2)r.push({x:Math.pow(10,a[i]),y:a[i+1]});return r;};
function starCanvas(R){const c=document.createElement('canvas');c.width=c.height=2*R;const g=c.getContext('2d');g.fillStyle='#fff';g.beginPath();
 for(let i=0;i<10;i++){const r=i%2?R*0.382:R,a=-Math.PI/2+i*Math.PI/5;g.lineTo(R+r*Math.cos(a),R+r*Math.sin(a));}g.closePath();g.fill();return c;}
const star=starCanvas(88);
const contour=(arr,i,tension)=>({data:pts(arr),showLine:true,fill:'shape',tension:tension,capBezierPoints:false,borderWidth:0,pointRadius:0,backgroundColor:contourColors[i],order:100-i});
const datasets=[level1,level2,level3,level4,level5,level6,level7a,level7b].map((a,i)=>contour(a,i,0.4));
datasets.push({label:'Planets',data:pts([].concat(dotsFarLeft,dotsUpperMid,dotsLowerMid,dotsUpperRight,dotsLowerRight)),pointRadius:4,pointBackgroundColor:'#000',pointBorderWidth:0,showLine:false,order:10});
planetLabels.forEach((n,i)=>{
 const d=[{x:Math.pow(10,planetLogS[i]),y:planetRadius[i]}];
 datasets.push({label:n+' star',data:d,pointStyle:star,pointRadius:88,showLine:false,order:5});
 datasets.push({label:n,data:d,pointRadius:i?30:47,pointBackgroundColor:planetColors[i],pointBorderColor:'#000',pointBorderWidth:8,showLine:false,order:3});
});
const labelOffsets=[[86,-82],[119,-96]];
function runs(ctx,parts,x,y,size){ // text with a subscript ⊕
 let cx=x;for(const p of parts){ctx.font=(p.sub?size*0.7:size)+'px "DejaVu Sans"';ctx.fillText(p.t,cx,y+(p.sub?size*0.2:0));cx+=ctx.measureText(p.t).width;}return cx-x;}
const decor={id:'decor',
 afterDatasetsDraw(ch){const {ctx,chartArea:a,scales:s}=ch;ctx.save();
  ctx.strokeStyle='#000';ctx.lineWidth=2.5;ctx.beginPath();ctx.moveTo(a.left,a.top);ctx.lineTo(a.right,a.top);ctx.stroke();
  planetLabels.forEach((n,i)=>{const px=s.x.getPixelForValue(Math.pow(10,planetLogS[i])),py=s.y.getPixelForValue(planetRadius[i]);
   const bx=px+labelOffsets[i][0],by=py+labelOffsets[i][1];ctx.fillStyle='#FF9500';ctx.fillRect(bx,by,331,104);
   ctx.fillStyle='#000';ctx.font='65px "Liberation Sans"';ctx.textBaseline='alphabetic';ctx.textAlign='left';ctx.fillText(n,bx+27,by+76);});
  ctx.restore();},
 afterDraw(ch){const ctx=ch.ctx;ctx.save();ctx.fillStyle='#000';ctx.textBaseline='alphabetic';ctx.textAlign='left';
  runs(ctx,[{t:'Insolation (S'},{t:'\u2295',sub:1},{t:')'}],1300,1267,85);
  ctx.translate(127,963);ctx.rotate(-Math.PI/2);runs(ctx,[{t:'Planet Radius (R'},{t:'\u2295',sub:1},{t:')'}],0,0,87);ctx.restore();
  ctx.save();ctx.fillStyle='#6F3FBF';ctx.font='bold 84.5px "Liberation Sans"';ctx.textBaseline='alphabetic';ctx.fillText('Lili Alderson | @lili_alderson',9,1257);ctx.restore();}
};
const noPad=s=>{s.paddingLeft=s.paddingRight=s.paddingTop=s.paddingBottom=0;};
new Chart(document.getElementById('c'),{type:'scatter',data:{datasets},plugins:[decor],options:{
 responsive:false,animation:false,events:[],
 layout:{autoPadding:false,padding:{top:40,left:0,right:0,bottom:0}},
 plugins:{legend:{display:false},tooltip:{enabled:false}},
 scales:{
  x:{type:'logarithmic',reverse:true,min:Math.pow(10,0.527),max:10000,
     afterBuildTicks(s){s.ticks=xTicks.map(v=>({value:v,major:true}));},
     afterFit(s){s.height=183;noPad(s);},
     grid:{drawOnChartArea:false,drawTicks:true,tickLength:14,tickWidth:2,tickColor:'#000'},
     border:{display:true,color:'#000',width:2.5,z:2},
     ticks:{autoSkip:false,maxRotation:0,padding:11,color:'#000',font:{family:'DejaVu Sans',size:55},callback:v=>String(v)}},
  y:{min:1,max:3,
     afterBuildTicks(s){s.ticks=yTicks.map(v=>({value:v}));},
     afterFit(s){s.width=316.5;noPad(s);},
     grid:{drawOnChartArea:false,drawTicks:true,tickLength:14,tickWidth:2,tickColor:'#000'},
     border:{display:true,color:'#000',width:2.5,z:2},
     ticks:{autoSkip:false,padding:16,color:'#000',font:{family:'DejaVu Sans',size:55},callback:v=>v.toFixed(2)}}
 }}});
</script></body></html>
